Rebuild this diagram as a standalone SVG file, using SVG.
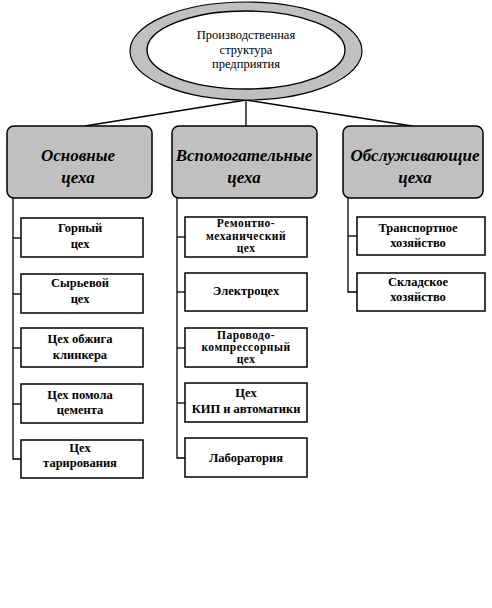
<svg xmlns="http://www.w3.org/2000/svg" width="492" height="608" viewBox="0 0 492 608">
<style>
.head{fill:#c0c0c0;stroke:#000;stroke-width:1.5}
.box{fill:#fff;stroke:#000;stroke-width:1.5}
.ln{stroke:#000;stroke-width:1.3;fill:none}
.ht{font-family:"Liberation Serif","Times New Roman",serif;font-size:17px;font-weight:bold;font-style:italic;text-anchor:middle}
.bt{font-family:"Liberation Serif","Times New Roman",serif;font-size:12.5px;font-weight:bold;text-anchor:middle}
.bs{font-family:"Liberation Serif","Times New Roman",serif;font-size:11.5px;font-weight:bold;letter-spacing:0.5px;text-anchor:middle}
.et{font-family:"Liberation Serif","Times New Roman",serif;font-size:12.5px;text-anchor:middle}
</style>
<rect width="492" height="608" fill="#fff"/>
<g id="connectors">
<line class="ln" x1="246" y1="100" x2="85" y2="126"/>
<line class="ln" x1="246" y1="100" x2="246" y2="126"/>
<line class="ln" x1="246" y1="100" x2="412" y2="126"/>
<polyline class="ln" points="13,198 13,459 21,459"/>
<line class="ln" x1="13" y1="238" x2="21" y2="238"/>
<line class="ln" x1="13" y1="294" x2="21" y2="294"/>
<line class="ln" x1="13" y1="348" x2="21" y2="348"/>
<line class="ln" x1="13" y1="404" x2="21" y2="404"/>
<polyline class="ln" points="177,198 177,458 185,458"/>
<line class="ln" x1="177" y1="237" x2="185" y2="237"/>
<line class="ln" x1="177" y1="292" x2="185" y2="292"/>
<line class="ln" x1="177" y1="348" x2="185" y2="348"/>
<line class="ln" x1="177" y1="403" x2="185" y2="403"/>
<polyline class="ln" points="348,198 348,292 357,292"/>
<line class="ln" x1="348" y1="236" x2="357" y2="236"/>
</g>
<g id="root">
<ellipse cx="246" cy="51" rx="116" ry="49" fill="#c0c0c0" stroke="#000" stroke-width="1.2"/>
<ellipse cx="246" cy="50" rx="99" ry="39" fill="#fff" stroke="#000" stroke-width="1.4"/>
<text class="et" x="246" y="39">Производственная</text>
<text class="et" x="246" y="54">структура</text>
<text class="et" x="246" y="68">предприятия</text>
</g>
<g id="main">
<rect class="head" x="7" y="126" width="145" height="72" rx="7"/>
<text class="ht" x="78" y="161">Основные</text>
<text class="ht" x="78" y="183">цеха</text>
</g>
<g id="aux">
<rect class="head" x="172" y="126" width="145" height="72" rx="7"/>
<text class="ht" x="244" y="161">Вспомогательные</text>
<text class="ht" x="244" y="183">цеха</text>
</g>
<g id="service">
<rect class="head" x="343" y="126" width="140" height="72" rx="7"/>
<text class="ht" x="415" y="161">Обслуживающие</text>
<text class="ht" x="415" y="183">цеха</text>
</g>
<g id="m1"><rect class="box" x="21" y="218" width="122" height="39"/><text class="bt" x="80" y="232">Горный</text><text class="bt" x="80" y="248">цех</text></g>
<g id="m2"><rect class="box" x="21" y="274" width="122" height="39"/><text class="bt" x="80" y="287">Сырьевой</text><text class="bt" x="80" y="303">цех</text></g>
<g id="m3"><rect class="box" x="21" y="328" width="122" height="39"/><text class="bt" x="80" y="343">Цех обжига</text><text class="bt" x="80" y="359">клинкера</text></g>
<g id="m4"><rect class="box" x="21" y="384" width="122" height="39"/><text class="bt" x="80" y="399">Цех помола</text><text class="bt" x="80" y="414">цемента</text></g>
<g id="m5"><rect class="box" x="21" y="440" width="122" height="38"/><text class="bt" x="80" y="452">Цех</text><text class="bt" x="80" y="467">тарирования</text></g>
<g id="a1"><rect class="box" x="185" y="217" width="122" height="40"/><text class="bs" x="246" y="227">Ремонтно-</text><text class="bs" x="246" y="239.5">механический</text><text class="bs" x="246" y="252">цех</text></g>
<g id="a2"><rect class="box" x="185" y="273" width="122" height="38"/><text class="bt" x="246" y="295">Электроцех</text></g>
<g id="a3"><rect class="box" x="185" y="328" width="122" height="39"/><text class="bs" x="246" y="339">Пароводо-</text><text class="bs" x="246" y="351">компрессорный</text><text class="bs" x="246" y="363">цех</text></g>
<g id="a4"><rect class="box" x="185" y="383" width="122" height="39"/><text class="bt" x="246" y="397">Цех</text><text class="bt" x="246" y="413">КИП и автоматики</text></g>
<g id="a5"><rect class="box" x="185" y="438" width="122" height="39"/><text class="bt" x="246" y="462">Лаборатория</text></g>
<g id="s1"><rect class="box" x="357" y="217" width="128" height="38"/><text class="bt" x="418" y="232">Транспортное</text><text class="bt" x="418" y="247">хозяйство</text></g>
<g id="s2"><rect class="box" x="357" y="273" width="128" height="38"/><text class="bt" x="418" y="286">Складское</text><text class="bt" x="418" y="301">хозяйство</text></g>
</svg>
